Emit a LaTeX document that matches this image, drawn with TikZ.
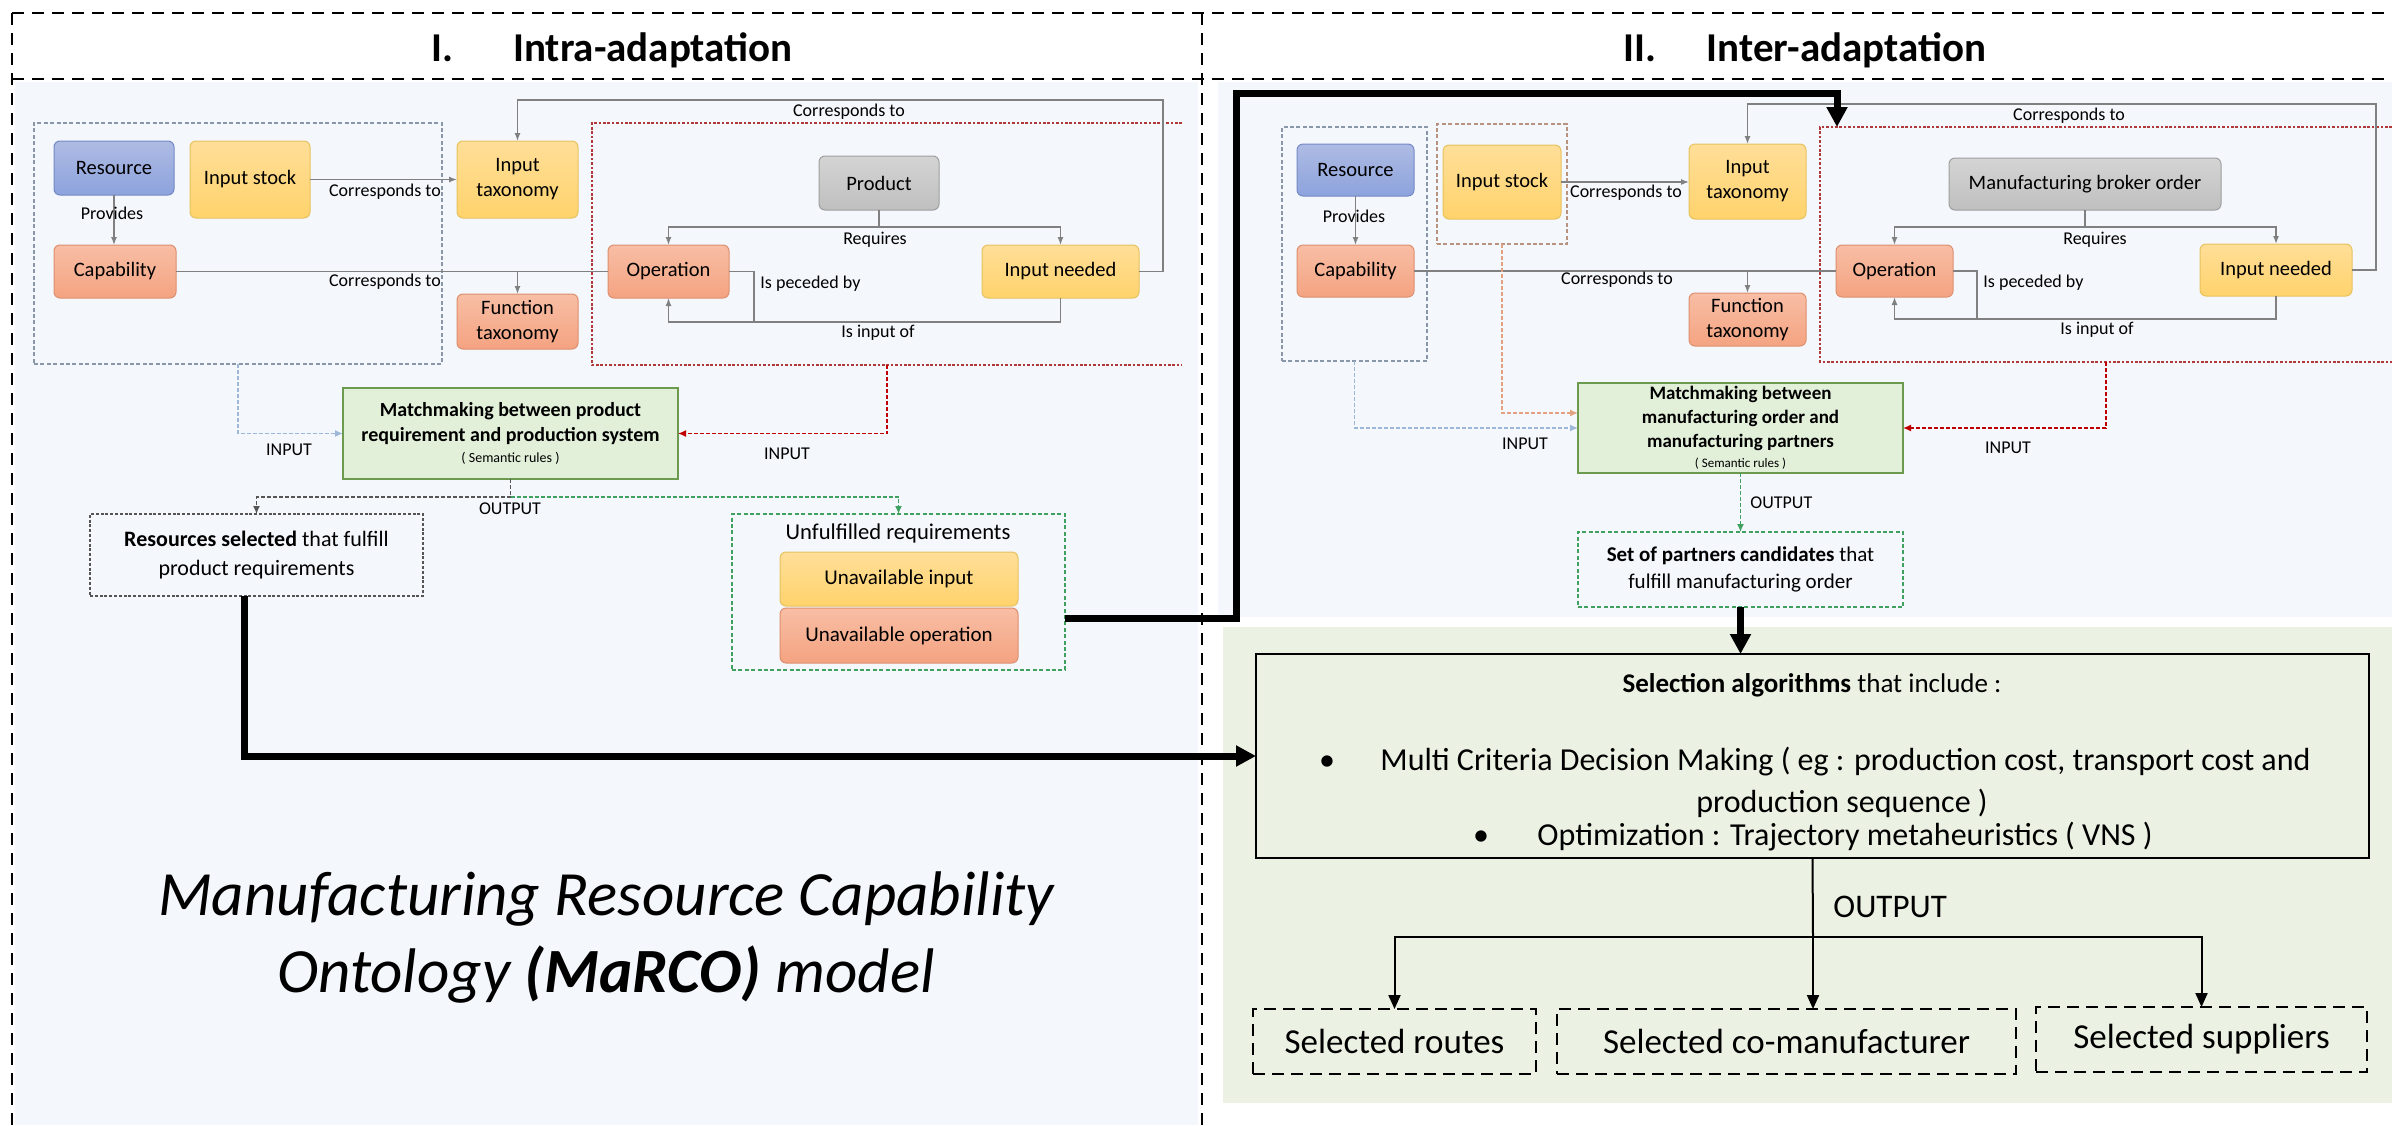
\documentclass[tikz,border=0pt]{standalone}
\usepackage{fontspec}
\setmainfont{Carlito}
\usetikzlibrary{arrows.meta,calc}
\definecolor{panelblue}{HTML}{F4F7FC}
\definecolor{panelgreen}{HTML}{EBF1E3}
\definecolor{blueT}{HTML}{AEBBE3}
\definecolor{blueB}{HTML}{8DA3DD}
\definecolor{blueD}{HTML}{7489C4}
\definecolor{yelT}{HTML}{FFDE98}
\definecolor{yelB}{HTML}{FFD36C}
\definecolor{yelD}{HTML}{E6C25E}
\definecolor{salT}{HTML}{F8BEA5}
\definecolor{salB}{HTML}{F4A381}
\definecolor{salD}{HTML}{DD8F6E}
\definecolor{gryT}{HTML}{D4D4D4}
\definecolor{gryB}{HTML}{BFBFBF}
\definecolor{gryD}{HTML}{9E9E9E}
\definecolor{mmfill}{HTML}{E2EFD9}
\definecolor{mmdraw}{HTML}{6C9A4E}
\definecolor{conn}{HTML}{808080}
\definecolor{grpgrey}{HTML}{8A97A8}
\definecolor{grpred}{HTML}{B03A3A}
\definecolor{grpbrown}{HTML}{B8927E}
\definecolor{inblue}{HTML}{9DB7D8}
\definecolor{inorange}{HTML}{E3A27F}
\definecolor{inred}{HTML}{C00000}
\definecolor{outgreen}{HTML}{3FA060}
\definecolor{outgrey}{HTML}{555555}
\newcommand{\mkbox}[7]{\node[#1, minimum width={(#5-#3)*0.5pt}, minimum height={(#6-#4)*0.5pt}] (#2) at ({(#3+#5)/2},{(#4+#6)/2}) {#7};}
\begin{document}
\begin{tikzpicture}[x=0.5pt,y=-0.5pt,
  nodebase/.style={rounded corners=3pt, inner sep=0pt, outer sep=0pt, align=center, line width=0.5pt, font=\fontsize{10.25}{12.5}\selectfont},
  bluebox/.style={nodebase, top color=blueT, bottom color=blueB, draw=blueD},
  yelbox/.style={nodebase, top color=yelT, bottom color=yelB, draw=yelD},
  salbox/.style={nodebase, top color=salT, bottom color=salB, draw=salD},
  grybox/.style={nodebase, top color=gryT, bottom color=gryB, draw=gryD},
  mmbox/.style={inner sep=0pt, outer sep=0pt, align=center, fill=mmfill, draw=mmdraw, line width=0.8pt},
  grpnode/.style={inner sep=0pt, outer sep=0pt},
  grpgreyst/.style={draw=grpgrey, line width=0.6pt, dash pattern=on 2pt off 1.2pt},
  grpredst/.style={draw=grpred, line width=0.6pt, dash pattern=on 1.3pt off 0.9pt},
  grpbrownst/.style={draw=grpbrown, line width=0.6pt, dash pattern=on 2pt off 1.2pt},
  outgreybox/.style={inner sep=0pt, outer sep=0pt, align=center, draw=outgrey, line width=0.6pt, dash pattern=on 1.5pt off 0.9pt},
  outgreenbox/.style={inner sep=0pt, outer sep=0pt, align=center, draw=outgreen, line width=0.6pt, dash pattern=on 2pt off 1.2pt},
  conline/.style={draw=conn, line width=0.7pt},
  conarrow/.style={conline, -{Latex[length=4pt,width=3pt]}},
  lbl/.style={inner sep=0pt, font=\fontsize{9}{10.5}\selectfont},
  frm/.style={draw=black, line width=1pt, dash pattern=on 6pt off 4pt},
  titlef/.style={inner sep=0pt, font=\bfseries\fontsize{20.5}{24}\selectfont},
  inbluearrow/.style={draw=inblue, line width=0.7pt, dash pattern=on 2pt off 1pt, -{Latex[length=4pt,width=3.5pt]}},
  inorangearrow/.style={draw=inorange, line width=0.7pt, dash pattern=on 2pt off 1pt, -{Latex[length=4pt,width=3.5pt]}},
  inredarrow/.style={draw=inred, line width=0.7pt, dash pattern=on 2pt off 1pt, -{Latex[length=4pt,width=3.5pt]}},
  outgreyline/.style={draw=outgrey, line width=0.7pt, dash pattern=on 2pt off 1pt},
  outgreenline/.style={draw=outgreen, line width=0.7pt, dash pattern=on 2pt off 1pt},
  thickarrow/.style={draw=black, line width=3.5pt, -{Triangle[length=10pt,width=10pt]}},
  blkline/.style={draw=black, line width=1pt},
  blkarrow/.style={blkline, -{Triangle[length=7pt,width=6pt]}},
  seltxt/.style={inner sep=0pt, font=\fontsize{16}{19}\selectfont},
  selout/.style={inner sep=0pt, outer sep=0pt, draw=black, line width=1.2pt, dash pattern=on 6pt off 3.5pt, font=\fontsize{17.5}{21}\selectfont}
]
\useasboundingbox (0,0) rectangle (2392,1125);
% backgrounds
\fill[white] (0,0) rectangle (2392,1125);
\fill[panelblue] (15,82) rectangle (1198,1125);
\fill[panelblue] (1218,82) rectangle (2392,617);
\fill[panelgreen] (1223,627) rectangle (2392,1103);
% frame
\draw[frm] (12,13) -- (2392,13);
\draw[frm] (12,79) -- (2392,79);
\draw[frm] (12,13) -- (12,1125);
\draw[frm] (1202,13) -- (1202,1125);
% titles
\node[titlef, anchor=base] (t1) at (612,61) {I.\hspace{30pt}Intra-adaptation};
\node[titlef, anchor=base] (t2) at (1805,61) {II.\hspace{25pt}Inter-adaptation};

%%%%%%%%%%%%%%%% LEFT PART
\mkbox{grpnode, grpgreyst}{grpL}{34}{123}{442}{364}{}
\mkbox{grpnode}{redL}{592}{123}{1182}{365}{}
\draw[grpredst] (redL.north east) -- (redL.north west) -- (redL.south west) -- (redL.south east);

\mkbox{bluebox}{res}{54}{141}{174}{195}{Resource}
\mkbox{yelbox}{instock}{190}{141}{310}{218}{Input stock}
\mkbox{yelbox}{intax}{457}{141}{578}{218}{Input\\taxonomy}
\mkbox{salbox}{cap}{54}{245}{176}{298}{Capability}
\mkbox{salbox}{functax}{457}{294}{578}{349}{Function\\taxonomy}
\mkbox{grybox}{product}{819}{156}{939}{210}{Product}
\mkbox{salbox}{oper}{608}{245}{729}{298}{Operation}
\mkbox{yelbox}{inneed}{982}{245}{1139}{298}{Input needed}

\draw[conarrow] (instock.east) -- (intax.west);
\node[lbl, anchor=base] (lcL1) at (385,196) {Corresponds to};
\draw[conarrow] (res.south) -- (res.south |- cap.north);
\node[lbl, anchor=base] (lpL) at (112,219) {Provides};
\draw[conline] (cap.east) -- (oper.west);
\draw[conarrow] (functax.north |- cap.east) -- (functax.north);
\node[lbl, anchor=base] (lcL2) at (385,286) {Corresponds to};
\draw[conarrow] (inneed.east) -| (1163,100) -| (intax.north);
\node[lbl, anchor=base] (lcL3) at (849,116) {Corresponds to};
\draw[conline] (product.south) -- ++(0,17) coordinate (rqL);
\draw[conarrow] (rqL) -| (oper.north);
\draw[conarrow] (rqL) -| (inneed.north);
\node[lbl, anchor=base] (lrL) at (875,244) {Requires};
\coordinate (pbL) at (754,322);
\draw[conarrow] (oper.east) -| (pbL) -| (oper.south);
\draw[conline] (inneed.south) |- (pbL);
\node[lbl, anchor=base west] (lpbL) at (760,288) {Is peceded by};
\node[lbl, anchor=base] (liL) at (878,337) {Is input of};

\mkbox{mmbox, font=\bfseries\fontsize{10}{12.5}\selectfont}{matchL}{343}{388}{678}{479}{Matchmaking between product\\requirement and production system\\[-2pt]{\normalfont\fontsize{7}{8}\selectfont ( Semantic rules )}}
\draw[inbluearrow] (grpL.south) |- (matchL.west);
\draw[inredarrow] (redL.south) |- (matchL.east);
\node[lbl] (inL1) at (289,450) {INPUT};
\node[lbl] (inL2) at (787,454) {INPUT};

\mkbox{outgreybox, font=\fontsize{11}{14.5}\selectfont}{ressel}{90}{514}{423}{596}{\textbf{Resources selected} that fulfill\\product requirements}
\mkbox{outgreenbox}{unful}{732}{514}{1065}{670}{}
\node[inner sep=0pt, anchor=base, font=\fontsize{11.3}{14}\selectfont] (unfult) at (898,539) {Unfulfilled requirements};
\mkbox{yelbox, font=\fontsize{10.5}{12.5}\selectfont}{unin}{780}{552}{1018}{606}{Unavailable input}
\mkbox{salbox, font=\fontsize{10.5}{12.5}\selectfont}{unop}{780}{608}{1018}{663}{Unavailable operation}

\draw[outgreyline] (matchL.south) -- ++(0,18) coordinate (oL);
\draw[outgreyline, -{Latex[length=4pt,width=3.5pt]}] (oL) -| (ressel.north);
\draw[outgreenline, -{Latex[length=4pt,width=3.5pt]}] (oL) -| (unful.north);
\node[lbl] (outL) at (510,509) {OUTPUT};

\node[inner sep=0pt, anchor=base, font=\itshape\fontsize{31.5}{38}\selectfont] (marco1) at (606,915) {Manufacturing Resource Capability};
\node[inner sep=0pt, anchor=base, font=\itshape\fontsize{31.5}{38}\selectfont] (marco2) at (606,992) {Ontology \textbf{(MaRCO)} model};

%%%%%%%%%%%%%%%% RIGHT PART
\mkbox{grpnode, grpgreyst}{grpR}{1282}{127}{1427}{361}{}
\mkbox{grpnode, grpbrownst}{grpB}{1437}{124}{1567}{244}{}
\mkbox{grpnode}{redR}{1820}{127}{2392}{362}{}
\draw[grpredst] (redR.north east) -- (redR.north west) -- (redR.south west) -- (redR.south east);

\mkbox{bluebox}{resR}{1297}{144}{1414}{196}{Resource}
\mkbox{salbox}{capR}{1297}{245}{1414}{297}{Capability}
\mkbox{yelbox}{instockR}{1443}{145}{1561}{219}{Input stock}
\mkbox{yelbox}{intaxR}{1689}{144}{1806}{219}{Input\\taxonomy}
\mkbox{salbox}{functaxR}{1689}{293}{1806}{346}{Function\\taxonomy}
\mkbox{grybox}{mbo}{1949}{158}{2221}{210}{Manufacturing broker order}
\mkbox{salbox}{operR}{1836}{245}{1953}{297}{Operation}
\mkbox{yelbox}{inneedR}{2200}{244}{2352}{296}{Input needed}

\draw[conarrow] (instockR.east) -- (instockR.east -| intaxR.west);
\node[lbl, anchor=base] (lcR1) at (1626,197) {Corresponds to};
\draw[conarrow] (resR.south) -- (capR.north);
\node[lbl, anchor=base] (lpR) at (1354,222) {Provides};
\draw[conline] (capR.east) -- (operR.west);
\draw[conarrow] (functaxR.north |- capR.east) -- (functaxR.north);
\node[lbl, anchor=base] (lcR2) at (1617,284) {Corresponds to};
\draw[conarrow] (inneedR.east) -| (2376,104) -| (intaxR.north);
\node[lbl, anchor=base] (lcR3) at (2069,120) {Corresponds to};
\draw[conline] (mbo.south) -- ++(0,17) coordinate (rqR);
\draw[conarrow] (rqR) -| (operR.north);
\draw[conarrow] (rqR) -| (inneedR.north);
\node[lbl, anchor=base] (lrR) at (2095,244) {Requires};
\coordinate (pbR) at (1977,319);
\draw[conarrow] (operR.east) -| (pbR) -| (operR.south);
\draw[conline] (inneedR.south) |- (pbR);
\node[lbl, anchor=base west] (lpbR) at (1983,287) {Is peceded by};
\node[lbl, anchor=base] (liR) at (2097,334) {Is input of};

\mkbox{mmbox, font=\bfseries\fontsize{9.5}{12}\selectfont}{matchR}{1578}{383}{1903}{473}{Matchmaking between\\manufacturing order and\\manufacturing partners\\[-2pt]{\normalfont\fontsize{6.5}{8}\selectfont ( Semantic rules )}}
\draw[inbluearrow] (grpR.south) |- (matchR.west);
\draw[inorangearrow] (grpB.south) |- ($(matchR.west)+(0,-15)$);
\draw[inredarrow] (redR.south) |- (matchR.east);
\node[lbl] (inR1) at (1525,444) {INPUT};
\node[lbl] (inR2) at (2008,448) {INPUT};

\mkbox{outgreenbox, font=\fontsize{10.5}{13.75}\selectfont}{setR}{1578}{532}{1903}{607}{\textbf{Set of partners candidates} that\\fulfill manufacturing order}
\draw[outgreenline, -{Latex[length=4pt,width=3.5pt]}] (matchR.south) -- (setR.north);
\node[lbl, anchor=west] (outR) at (1750,503) {OUTPUT};

% selection box
\mkbox{inner sep=0pt, outer sep=0pt, draw=black, line width=1.1pt}{selbox}{1256}{654}{2369}{858}{}
\node[seltxt, anchor=base, font=\fontsize{13.5}{16}\selectfont] (s1) at (1812,692) {\textbf{Selection algorithms} that include :};
\node[seltxt, anchor=base] (b1) at (1327,770) {\textbullet};
\node[seltxt, anchor=base west] (m1) at (1380,770) {Multi Criteria Decision Making ( eg : production cost, transport cost and};
\node[seltxt, anchor=base] (m2) at (1842,812) {production sequence )};
\node[seltxt, anchor=base] (b2) at (1481,845) {\textbullet};
\node[seltxt, anchor=base west] (m3) at (1537,845) {Optimization : Trajectory metaheuristics ( VNS )};

\mkbox{selout}{routes}{1253}{1009}{1536}{1074}{Selected routes}
\mkbox{selout}{coman}{1557}{1009}{2016}{1074}{Selected co-manufacturer}
\mkbox{selout}{suppl}{2036}{1007}{2367}{1072}{Selected suppliers}

\draw[blkline] (selbox.south) -- (1813,937) coordinate (oR);
\draw[blkarrow] (oR) -| (routes.north);
\draw[blkarrow] (oR) -| (suppl.north);
\draw[blkarrow] (oR) -- (oR |- coman.north);
\node[inner sep=0pt, anchor=base west, font=\fontsize{16.5}{19}\selectfont] (outbig) at (1833,917) {OUTPUT};

% thick connectors
\draw[thickarrow] (setR.south) -- (selbox.north -| setR.south);
\draw[thickarrow] ($(ressel.south)+(-12,0)$) |- (selbox.west);
\draw[thickarrow] ($(unful.south east)+(0,-52)$) -| (1236,93) -| ($(redR.north west)+(17,0)$);
\end{tikzpicture}
\end{document}
